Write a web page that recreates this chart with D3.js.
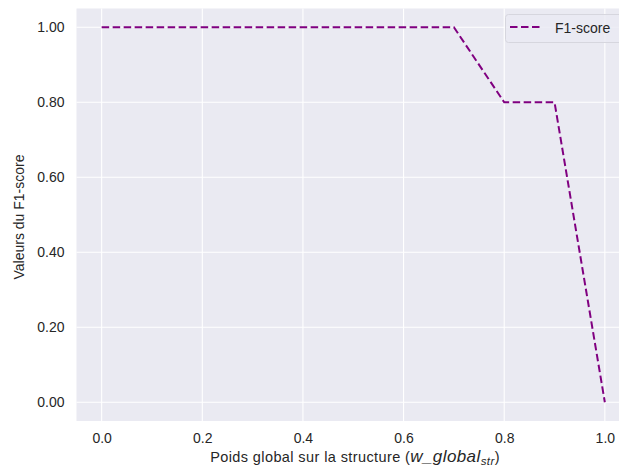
<!DOCTYPE html>
<html><head><meta charset="utf-8">
<script src="https://cdn.jsdelivr.net/npm/d3@7"></script>
<style>body{margin:0;background:#fff;} text{font-family:"Liberation Sans",Arial,sans-serif;}</style>
</head><body>
<svg id="c" width="619" height="470"></svg>
<script>
const weights = [0.0,0.1,0.2,0.3,0.4,0.5,0.6,0.7,0.8,0.9,1.0];
const f1Scores = [1,1,1,1,1,1,1,1,0.8,0.8,0];
const xTicks = [0.0,0.2,0.4,0.6,0.8,1.0];
const yTicks = [0.0,0.2,0.4,0.6,0.8,1.0];
const seriesName = "F1-score";

const svg = d3.select("#c");
const L = 76.5, R = 630, T = 8.5, B = 421;
const x = d3.scaleLinear().domain([-0.05,1.05]).range([L,R]);
const y = d3.scaleLinear().domain([-0.05,1.05]).range([B,T]);

svg.append("rect").attr("x",L).attr("y",T).attr("width",R-L).attr("height",B-T).attr("fill","#eaeaf2");

const gx = svg.append("g").attr("transform",`translate(0,${B})`)
  .call(d3.axisBottom(x).tickValues(xTicks).tickFormat(d3.format(".1f")).tickSize(0).tickPadding(12));
const gy = svg.append("g").attr("transform",`translate(${L},0)`)
  .call(d3.axisLeft(y).tickValues(yTicks).tickFormat(d3.format(".2f")).tickSize(0).tickPadding(12));
[gx,gy].forEach(g=>{g.select(".domain").remove();
  g.selectAll("text").attr("fill","#262626").attr("font-size","14px");});

svg.append("g").selectAll("line").data(xTicks).join("line")
  .attr("x1",d=>x(d)).attr("x2",d=>x(d)).attr("y1",T).attr("y2",B)
  .attr("stroke","#fff").attr("stroke-width",1.1);
svg.append("g").selectAll("line").data(yTicks).join("line")
  .attr("x1",L).attr("x2",R).attr("y1",d=>y(d)).attr("y2",d=>y(d))
  .attr("stroke","#fff").attr("stroke-width",1.1);

const pts = weights.map((w,i)=>[w,f1Scores[i]]);
svg.append("path").datum(pts)
  .attr("d",d3.line().x(d=>x(d[0])).y(d=>y(d[1])))
  .attr("fill","none").attr("stroke","#800080").attr("stroke-width",2)
  .attr("stroke-dasharray","7.5,3.5");

// legend
const lg = svg.append("g");
lg.append("rect").attr("x",505.5).attr("y",14.5).attr("width",130).attr("height",28).attr("rx",3)
  .attr("fill","#eaeaf2").attr("fill-opacity",0.8).attr("stroke","#d6d6de").attr("stroke-width",1);
lg.append("line").attr("x1",510).attr("x2",542).attr("y1",27).attr("y2",27)
  .attr("stroke","#800080").attr("stroke-width",2).attr("stroke-dasharray","7.5,3.5");
lg.append("text").attr("x",555).attr("y",32.5).attr("font-size","14px").attr("fill","#262626").text(seriesName);

// axis labels
svg.append("text").attr("x",355).attr("y",462).attr("text-anchor","middle").attr("font-size","14.5px")
  .attr("letter-spacing","0.4px").attr("fill","#262626")
  .html('Poids global sur la structure (<tspan font-style="italic" font-size="17px">w_global</tspan><tspan font-style="italic" font-size="11.5px" dy="2.5">str</tspan><tspan dy="-2.5">)</tspan>');
svg.append("text").attr("transform","translate(24,217) rotate(-90)").attr("text-anchor","middle")
  .attr("font-size","14px").attr("fill","#262626").text("Valeurs du F1-score");
</script>
</body></html>
